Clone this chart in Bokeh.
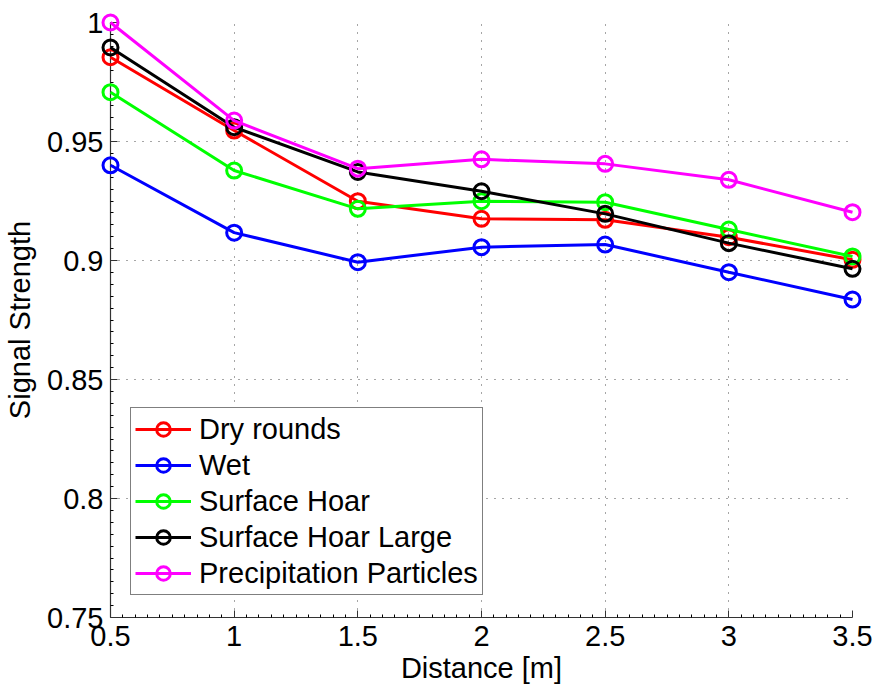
from bokeh.plotting import figure
from bokeh.models import FixedTicker, Range1d, Legend, LegendItem
from bokeh.embed import file_html
from bokeh.resources import INLINE

distance = [0.5, 1.0, 1.5, 2.0, 2.5, 3.0, 3.5]
dry_rounds = [0.9854, 0.9546, 0.9249, 0.9175, 0.9171, 0.9098, 0.9003]
wet = [0.9400, 0.9117, 0.8993, 0.9056, 0.9067, 0.8951, 0.8836]
surface_hoar = [0.9707, 0.9378, 0.9217, 0.9249, 0.9245, 0.9130, 0.9017]
surface_hoar_large = [0.9895, 0.9560, 0.9372, 0.9291, 0.9196, 0.9073, 0.8965]
precipitation = [1.0000, 0.9588, 0.9386, 0.9425, 0.9406, 0.9339, 0.9203]

series_names = ["Dry rounds", "Wet", "Surface Hoar", "Surface Hoar Large",
                "Precipitation Particles"]
series_values = [dry_rounds, wet, surface_hoar, surface_hoar_large, precipitation]
series_colors = ["#ff0000", "#0000ff", "#00ff00", "#000000", "#ff00ff"]

x_ticks = [0.5, 1.0, 1.5, 2.0, 2.5, 3.0, 3.5]
x_tick_labels = ["0.5", "1", "1.5", "2", "2.5", "3", "3.5"]
y_ticks = [0.75, 0.8, 0.85, 0.9, 0.95, 1.0]
y_tick_labels = ["0.75", "0.8", "0.85", "0.9", "0.95", "1"]

FONT = "Liberation Sans"

p = figure(width=877, height=688, output_backend="svg", toolbar_location=None,
           x_range=Range1d(x_ticks[0], x_ticks[-1]),
           y_range=Range1d(y_ticks[0], y_ticks[-1]))
p.min_border_left = 110
p.min_border_right = 25
p.min_border_top = 22
p.min_border_bottom = 71
p.outline_line_color = None
p.background_fill_color = "white"
p.border_fill_color = "white"

items = []
for name, vals, col in zip(series_names, series_values, series_colors):
    r1 = p.line(distance, vals, line_color=col, line_width=3, level="overlay")
    r2 = p.scatter(distance, vals, marker="circle", size=15, line_color=col,
                   line_width=3, fill_alpha=0, level="overlay")
    items.append(LegendItem(label=name, renderers=[r1, r2]))

legend = Legend(items=items, location=(20, 22))
legend.label_text_font = FONT
legend.label_text_font_size = "29px"
legend.label_text_color = "black"
legend.glyph_width = 56
legend.glyph_height = 34
legend.label_height = 34
legend.spacing = 2
legend.padding = 4
legend.margin = 0
legend.label_standoff = 8
legend.border_line_color = "black"
legend.border_line_width = 1.2
legend.background_fill_alpha = 1
legend.click_policy = "none"
p.add_layout(legend, "center")

xm = []
for i in range(len(x_ticks) - 1):
    a, b = x_ticks[i], x_ticks[i + 1]
    xm += [a + (b - a) * k / 10 for k in range(1, 10)]
ym = []
for i in range(len(y_ticks) - 1):
    a, b = y_ticks[i], y_ticks[i + 1]
    ym += [a + (b - a) * k / 10 for k in range(1, 10)]

for ax, ticks, labels, minor in ((p.xaxis[0], x_ticks, x_tick_labels, xm),
                                 (p.yaxis[0], y_ticks, y_tick_labels, ym)):
    ax.ticker = FixedTicker(ticks=ticks, minor_ticks=minor)
    ax.major_label_overrides = {t: l for t, l in zip(ticks, labels)}
    ax.major_label_text_font = FONT
    ax.major_label_text_font_size = "29px"
    ax.major_label_text_color = "black"
    ax.axis_label_text_font = FONT
    ax.axis_label_text_font_size = "29px"
    ax.axis_label_text_font_style = "normal"
    ax.axis_label_text_color = "black"
    ax.axis_line_color = "#333333"
    ax.axis_line_width = 1.2
    ax.major_tick_in = 7
    ax.major_tick_out = 0
    ax.major_tick_line_color = "#333333"
    ax.minor_tick_in = 3
    ax.minor_tick_out = 0

p.xaxis.axis_label = "Distance [m]"
p.yaxis.axis_label = "Signal Strength"
p.xaxis.major_label_standoff = 8
p.yaxis.major_label_standoff = 7
p.xaxis.axis_label_standoff = 3
p.yaxis.axis_label_standoff = 8

for g, ticks in ((p.xgrid[0], x_ticks), (p.ygrid[0], y_ticks)):
    g.ticker = FixedTicker(ticks=ticks)
    g.grid_line_color = "black"
    g.grid_line_alpha = 0.7
    g.grid_line_width = 1
    g.grid_line_dash = "1 7"

open("out.html", "w").write(file_html(p, INLINE))
